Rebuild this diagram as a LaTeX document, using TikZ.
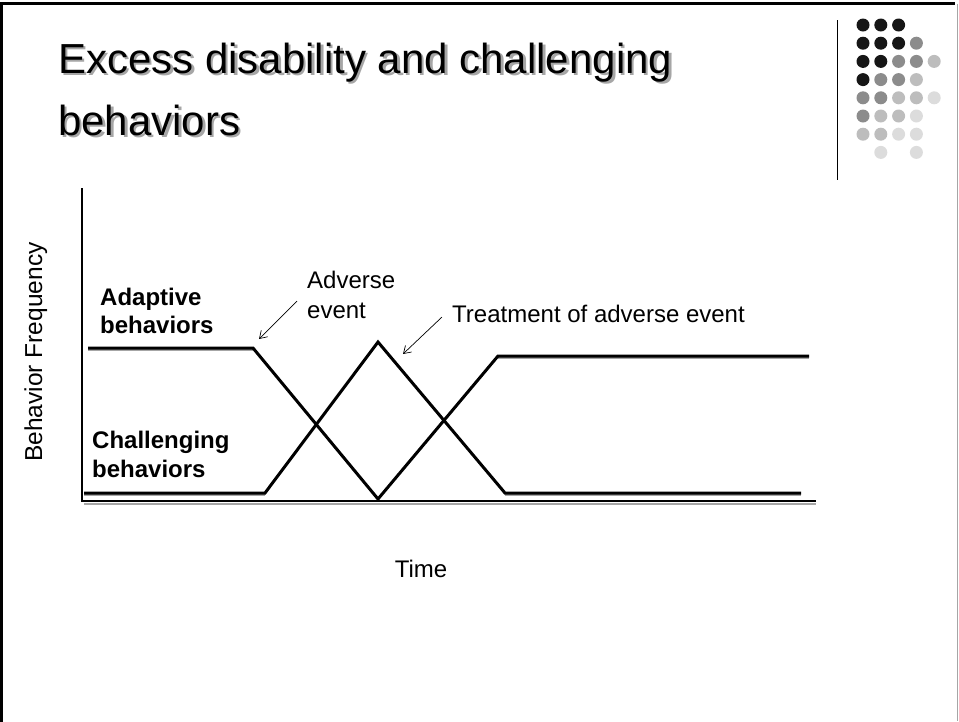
\documentclass[tikz,border=0pt]{standalone}
\usepackage{fontspec}
\setmainfont{Liberation Sans}
\usetikzlibrary{arrows.meta}
\definecolor{dotK}{HTML}{161616}
\definecolor{dotG}{HTML}{8C8C8C}
\definecolor{dotL}{HTML}{BDBDBD}
\definecolor{dotV}{HTML}{DCDCDC}
% title text with a soft grey drop shadow behind it
\newcommand{\shadowtext}[1]{\rlap{\hspace{2.5pt}\raisebox{-2.5pt}{\color{black!35}#1}}#1}
\begin{document}
\begin{tikzpicture}[x=1pt,y=-1pt,
  trace/.style={line width=3pt, line join=miter},
  traceshadow/.style={line width=2.6pt, draw=black!35, line join=miter},
  axisline/.style={line width=2.4pt},
  pointer/.style={line width=0.7pt, -{Straight Barb[length=7pt,width=9pt]}},
  lbl/.style={inner sep=0pt, anchor=base west, font=\fontsize{24}{29}\selectfont},
  blbl/.style={lbl, font=\bfseries\fontsize{24}{29}\selectfont},
  ttl/.style={inner sep=0pt, anchor=base west, font=\fontsize{42}{50}\selectfont},
  dot/.style={circle, minimum size=13pt, inner sep=0pt},
]
\useasboundingbox (0,0) rectangle (959,721);
\fill[white] (0,0) rectangle (959,721);

% slide frame
\draw[line width=3pt] (1.5,722) -- (1.5,3.5) -- (955,3.5);
\draw[line width=1pt, black!35] (957.5,3.5) -- (957.5,721);

% title
\node[ttl] (t1) at (58,73) {\shadowtext{Excess disability and challenging}};
\node[ttl] (t2) at (58,135) {\shadowtext{behaviors}};

% decorative dot grid and separator
\draw[line width=1pt] (837,20) -- (837,180);
\foreach \c/\r/\col in {
  1/1/dotK, 2/1/dotK, 3/1/dotK,
  1/2/dotK, 2/2/dotK, 3/2/dotK, 4/2/dotG,
  1/3/dotK, 2/3/dotK, 3/3/dotG, 4/3/dotG, 5/3/dotL,
  1/4/dotK, 2/4/dotG, 3/4/dotG, 4/4/dotL,
  1/5/dotG, 2/5/dotG, 3/5/dotL, 4/5/dotL, 5/5/dotV,
  1/6/dotG, 2/6/dotL, 3/6/dotL, 4/6/dotV,
  1/7/dotL, 2/7/dotL, 3/7/dotV, 4/7/dotV,
  2/8/dotV, 4/8/dotV}
  \node[dot, fill=\col] (d\c\r) at ({863+17.8*(\c-1)},{25+18.2*(\r-1)}) {};

% axes
\draw[line width=2.4pt, black!35] (84,504) -- (816,504);
\draw[axisline] (82,188) -- (82,501) -- (816,501);

% curve corners
\coordinate (a0) at (88,348);
\coordinate (a1) at (253,348);
\coordinate (a2) at (378,499);
\coordinate (a3) at (498,356);
\coordinate (a4) at (809,356);
\coordinate (c0) at (84,493);
\coordinate (c1) at (265,493);
\coordinate (c2) at (378,342);
\coordinate (c3) at (505,493);
\coordinate (c4) at (801,493);

% shadows under the horizontal runs
\draw[traceshadow] ([yshift=-2pt]a0) -- ([yshift=-2pt]a1);
\draw[traceshadow] ([yshift=-2pt]a3) -- ([yshift=-2pt]a4);
\draw[traceshadow] ([yshift=-2pt]c0) -- ([yshift=-2pt]c1);
\draw[traceshadow] ([yshift=-2pt]c3) -- ([yshift=-2pt]c4);

% behaviour traces
\draw[trace] (a0) -- (a1) -- (a2) -- (a3) -- (a4);
\draw[trace] (c0) -- (c1) -- (c2) -- (c3) -- (c4);

% labels
\node[blbl] (ad1) at (100,305) {Adaptive};
\node[blbl] (ad2) at (100,333) {behaviors};
\node[blbl] (ch1) at (92,448) {Challenging};
\node[blbl] (ch2) at (92,477) {behaviors};
\node[lbl] (ev1) at (307,288) {Adverse};
\node[lbl] (ev2) at (307,318) {event};
\node[lbl] (tr) at (452,322) {Treatment of adverse event};
\node[inner sep=0pt, anchor=base, font=\fontsize{24}{29}\selectfont] (time) at (421,577) {Time};
\node[inner sep=0pt, anchor=base, rotate=90, font=\fontsize{24.5}{29}\selectfont] (freq) at (42,352) {Behavior Frequency};

% pointers
\coordinate (p1s) at (297,301);
\coordinate (p1e) at (259,339);
\coordinate (p2s) at (442,317);
\coordinate (p2e) at (403,354);
\draw[pointer] (p1s) -- (p1e);
\draw[pointer] (p2s) -- (p2e);
\end{tikzpicture}
\end{document}
